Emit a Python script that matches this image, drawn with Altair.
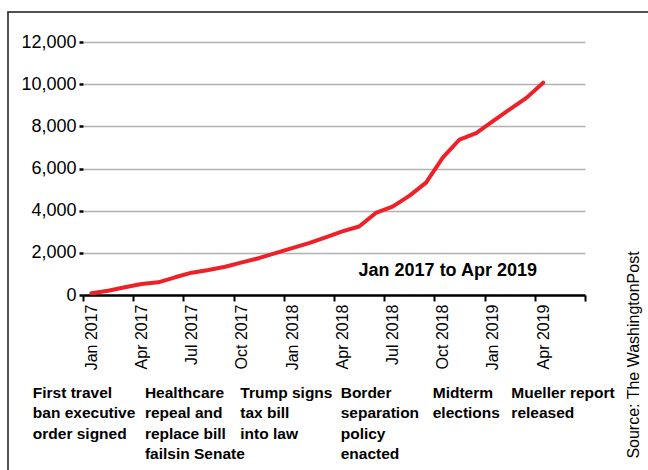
import altair as alt
import pandas as pd

# ---- data -------------------------------------------------------------
months = [
    "Jan 2017", "Feb 2017", "Mar 2017", "Apr 2017", "May 2017", "Jun 2017",
    "Jul 2017", "Aug 2017", "Sep 2017", "Oct 2017", "Nov 2017", "Dec 2017",
    "Jan 2018", "Feb 2018", "Mar 2018", "Apr 2018", "May 2018", "Jun 2018",
    "Jul 2018", "Aug 2018", "Sep 2018", "Oct 2018", "Nov 2018", "Dec 2018",
    "Jan 2019", "Feb 2019", "Mar 2019", "Apr 2019",
]
counts = [
    80, 205, 365, 525, 600, 840,
    1060, 1190, 1340, 1550, 1745, 1985,
    2220, 2460, 2730, 3015, 3250, 3890,
    4190, 4700, 5330, 6520, 7375, 7680,
    8250, 8805, 9350, 10070,
]
tick_labels = [
    "Jan 2017", "Apr 2017", "Jul 2017", "Oct 2017", "Jan 2018",
    "Apr 2018", "Jul 2018", "Oct 2018", "Jan 2019", "Apr 2019",
]
y_ticks = [0, 2000, 4000, 6000, 8000, 10000, 12000]
events = [
    "First travel\nban executive\norder signed",
    "Healthcare\nrepeal and\nreplace bill\nfailsin Senate",
    "Trump signs\ntax bill\ninto law",
    "Border\nseparation\npolicy\nenacted",
    "Midterm\nelections",
    "Mueller report\nreleased",
]
event_pos = [-3.0, 3.7, 9.4, 15.4, 20.9, 25.6]  # in month units along x
range_label = ["Jan 2017 to Apr 2019"]
range_pos = [21.8]
range_val = [1140]
source = "Source: The WashingtonPost"

# ---- layout -----------------------------------------------------------
W, H = 502, 253
N_SLOTS = 30
half = W / N_SLOTS / 2
FONT = "Liberation Sans"

df = pd.DataFrame({"month": months, "idx": list(range(len(months))), "count": counts})
ev_df = pd.DataFrame({"text": events, "pos": event_pos})
rl_df = pd.DataFrame({"text": range_label, "pos": range_pos, "val": range_val})
one = pd.DataFrame({"a": [0]})

label_expr = "[" + ",".join(f"'{t}'" for t in tick_labels) + "][datum.value / 3] || ''"

x_scale = alt.Scale(domain=[0, N_SLOTS], nice=False, zero=False)
y_scale = alt.Scale(domain=[0, 12000], nice=False)

x_axis = alt.Axis(
    values=list(range(0, N_SLOTS + 1, 3)), labelExpr=label_expr,
    labelAngle=270, labelAlign="right", labelBaseline="middle",
    labelOffset=half, labelFontSize=16, labelColor="black",
    labelPadding=3, labelFlush=False, labelOverlap=False, labelBound=False,
    tickSize=6, tickWidth=2, tickColor="black",
    domainColor="black", domainWidth=2.5, grid=False, title=None,
)
y_axis = alt.Axis(
    values=y_ticks, labelExpr="format(datum.value, ',')",
    labelFontSize=18, labelColor="black",
    labelPadding=3, tickSize=4, tickWidth=2.5, tickColor="black",
    domain=False, grid=True, gridColor="#b0b0b0", gridWidth=1.5, title=None,
)

line = alt.Chart(df).transform_calculate(pos="datum.idx + 0.5").mark_line(
    color="#ee2129", strokeWidth=4, strokeCap="round", strokeJoin="round"
).encode(
    x=alt.X("pos:Q", scale=x_scale, axis=x_axis),
    y=alt.Y("count:Q", scale=y_scale, axis=y_axis),
)

ev = alt.Chart(ev_df).mark_text(
    align="left", baseline="top", lineBreak="\n", lineHeight=20.3,
    fontSize=15.5, fontWeight="bold", font=FONT, color="black",
).encode(
    x=alt.X("pos:Q", scale=x_scale, axis=x_axis),
    y=alt.value(344),
    text="text:N",
)

rl = alt.Chart(rl_df).mark_text(
    align="center", baseline="middle", fontSize=18, fontWeight="bold",
    font=FONT, color="black",
).encode(
    x=alt.X("pos:Q", scale=x_scale, axis=x_axis),
    y=alt.Y("val:Q", scale=y_scale, axis=y_axis),
    text="text:N",
)

src = alt.Chart(one).mark_text(
    angle=270, align="center", baseline="middle", fontSize=16, font=FONT, color="black",
).encode(x=alt.value(551), y=alt.value(313), text=alt.value(source))

frame_left = alt.Chart(one).mark_rule(color="#1a1a1a", strokeWidth=1.5).encode(
    x=alt.value(-75), y=alt.value(-30), y2=alt.value(440)
)
frame_top = alt.Chart(one).mark_rule(color="#1a1a1a", strokeWidth=1.5).encode(
    x=alt.value(-75.75), x2=alt.value(600), y=alt.value(-30)
)

chart = alt.layer(line, ev, rl, src, frame_left, frame_top).properties(
    width=W, height=H,
    padding={"left": 83, "top": 42, "right": 63, "bottom": 175},
    autosize=alt.AutoSizeParams(type="none"),
).configure(font=FONT).configure_view(stroke=None)

chart.save("out.html", embed_options={"renderer": "svg", "actions": False})
